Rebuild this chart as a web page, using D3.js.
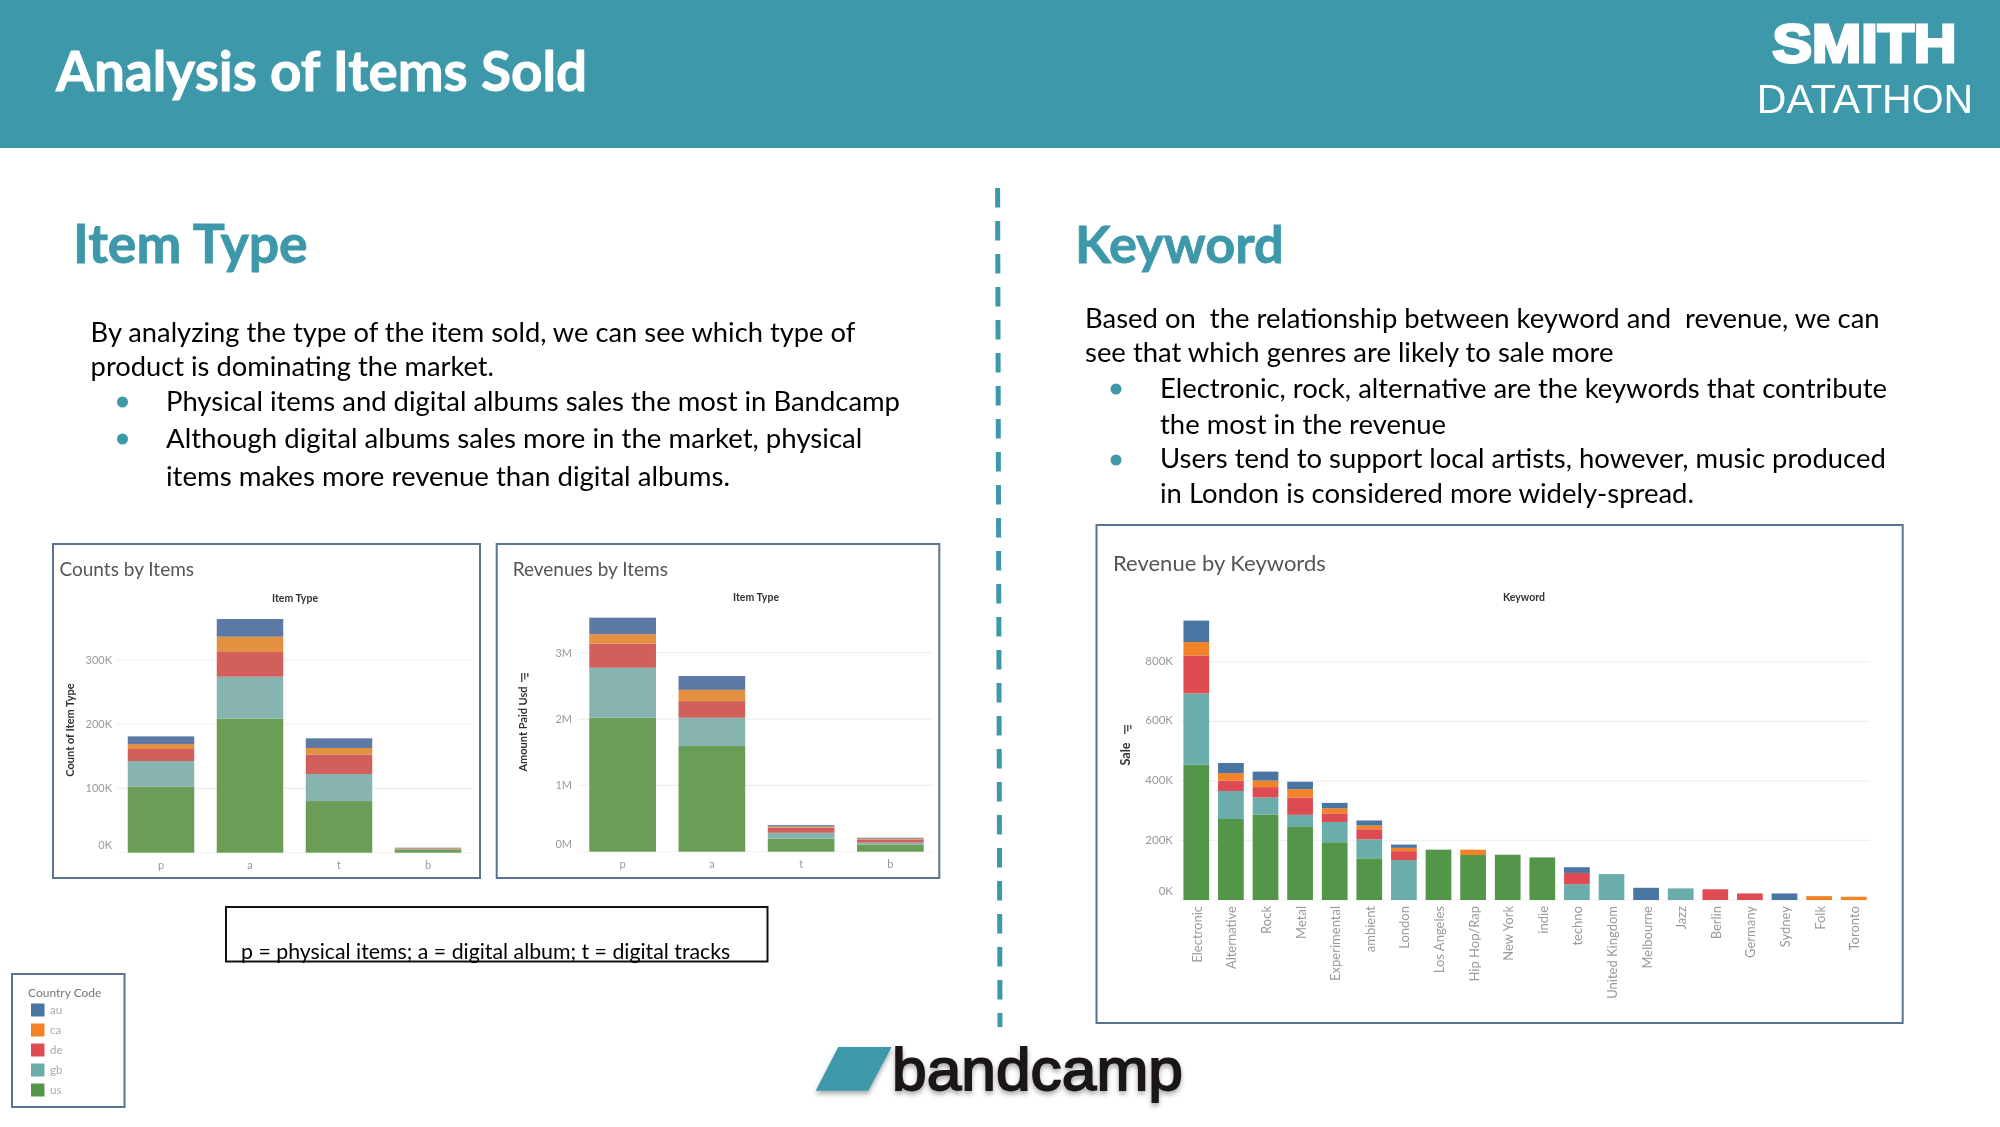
<!DOCTYPE html>
<html><head><meta charset="utf-8">
<script src="https://cdn.jsdelivr.net/npm/d3@7"></script>
<style>
html,body{margin:0;padding:0;background:#fff}
svg{display:block;filter:blur(0.35px)}
text{font-family:Lato,"Open Sans",sans-serif}
.tick line{stroke:none}
.domain{stroke:none}
</style></head><body>
<svg id="c" width="2000" height="1127"></svg>
<script>
// ---------- data ----------
const countries = ["us","gb","de","ca","au"];
const legendOrder = ["au","ca","de","gb","us"];
const itemTypes = ["p","a","t","b"];
const countUs = [102700,209000,80400,5200];
const countGb = [40000,65000,42100,800];
const countDe = [18700,38400,30500,1000];
const countCa = [7800,23900,10000,400];
const countAu = [11900,27500,15000,400];
const countTicks = [0,100000,200000,300000];

const revenueUs = [2020000,1593000,196000,110000];
const revenueGb = [754000,427000,90000,26000];
const revenueDe = [362000,250000,76000,44000];
const revenueCa = [144000,170000,18000,16000];
const revenueAu = [248000,208000,20000,14000];
const revenueTicks = [0,1000000,2000000,3000000];

const keywords = ["Electronic","Alternative","Rock","Metal","Experimental","ambient","London","Los Angeles","Hip Hop/Rap","New York","indie","techno","United Kingdom","Melbourne","Jazz","Berlin","Germany","Sydney","Folk","Toronto"];
const keywordUs = [453800,272000,286000,245000,194000,140000,0,169000,151000,152000,143000,0,0,0,0,0,0,0,0,0];
const keywordGb = [239700,94000,58000,41000,68000,64000,134000,0,0,0,0,53000,87000,0,39000,0,0,0,0,0];
const keywordDe = [127500,35000,35000,58000,29000,33500,30000,0,0,0,0,38000,0,0,0,36000,22000,0,0,0];
const keywordCa = [45000,25000,22000,28000,17000,12500,11000,0,18000,0,0,0,0,0,0,0,0,0,13000,11000];
const keywordAu = [72000,34000,30000,25000,18000,17000,11000,0,0,0,0,19000,0,41000,0,0,0,22000,0,0];
const keywordTicks = [0,200000,400000,600000,800000];

const headerTitle = "Analysis of Items Sold";
const leftBody = ["By analyzing the type of the item sold, we can see which type of","product is dominating the market."];
const leftBullets = [["Physical items and digital albums sales the most in Bandcamp"],["Although digital albums sales more in the market, physical","items makes more revenue than digital albums."]];
const rightBody = ["Based on  the relationship between keyword and  revenue, we can","see that which genres are likely to sale more"];
const rightBullets = [["Electronic, rock, alternative are the keywords that contribute","the most in the revenue"],["Users tend to support local artists, however, music produced","in London is considered more widely-spread."]];
const noteText = "p = physical items; a = digital album; t = digital tracks";

// ---------- styles ----------
const teal = "#3d98aa";
const frameColor = "#5a7394";
const mutedColors = {au:"#5b78a4",ca:"#e39140",de:"#d15e5c",gb:"#88b4b0",us:"#6a9e57"};
const brightColors = {au:"#4a74a3",ca:"#f28325",de:"#df4c52",gb:"#6badaa",us:"#52964a"};

const svg = d3.select("#c");
svg.append("style").text("text{white-space:pre}");
const defs = svg.append("defs");
defs.append("filter").attr("id","soft").append("feGaussianBlur").attr("stdDeviation",0.35);
const sh = defs.append("filter").attr("id","shadow").attr("x","-5%").attr("y","-10%").attr("width","110%").attr("height","130%");
sh.append("feDropShadow").attr("dx",0).attr("dy",3).attr("stdDeviation",2.5).attr("flood-color","#000").attr("flood-opacity",0.35);

// header
svg.append("rect").attr("x",0).attr("y",0).attr("width",2000).attr("height",148).attr("fill",teal);
svg.append("text").attr("x",56).attr("y",91).attr("font-size",54.8).attr("font-weight",700).attr("fill","#fff")
  .attr("stroke","#fff").attr("stroke-width",0.9).text(headerTitle);
svg.append("text").attr("x",1772.5).attr("y",61.5).attr("font-size",54).attr("font-weight",700)
  .attr("textLength",184).attr("lengthAdjust","spacingAndGlyphs")
  .attr("fill","#fff").attr("stroke","#fff").attr("stroke-width",3).style("font-family","'Liberation Sans'").text("SMITH");
svg.append("text").attr("x",1865).attr("y",113).attr("text-anchor","middle").attr("font-size",41)
  .attr("fill","#fff").style("font-family","'Liberation Sans'").text("DATATHON");

// divider
svg.append("line").attr("x1",997.6).attr("y1",188).attr("x2",1000).attr("y2",1027)
  .attr("stroke",teal).attr("stroke-width",5).attr("stroke-dasharray","19.5 13.5");

// section headings
svg.append("text").attr("x",73).attr("y",262.5).attr("font-size",53.6).attr("font-weight",700).attr("fill",teal)
  .attr("stroke",teal).attr("stroke-width",0.8).text("Item Type");
svg.append("text").attr("x",1075).attr("y",262.5).attr("font-size",52.3).attr("font-weight",700).attr("fill",teal)
  .attr("stroke",teal).attr("stroke-width",0.8).text("Keyword");

// body text
const bodyLeftX=90.6, bulletLeftX=122.5, bulletTextLeftX=166;
const bodyRightX=1085, bulletRightX=1116, bulletTextRightX=1160;
function body(lines,x,ys,size){lines.forEach((t,i)=>svg.append("text").attr("x",x).attr("y",ys[i]).attr("font-size",size).attr("fill","#000").text(t));}
function bullet(x,y){svg.append("circle").attr("cx",x).attr("cy",y).attr("r",5.5).attr("fill",teal);}
body(leftBody,bodyLeftX,[342,376],27.3);
body(leftBullets[0],bulletTextLeftX,[411],27.45);
body(leftBullets[1],bulletTextLeftX,[448,486],27.6);
bullet(bulletLeftX,402);bullet(bulletLeftX,439);
body(rightBody,bodyRightX,[328,362],27.45);
body(rightBullets[0],bulletTextRightX,[398,434],27.45);
body(rightBullets[1],bulletTextRightX,[468,503],27.45);
bullet(bulletRightX,389);bullet(bulletRightX,460);

// chart helper
function stacked(o){
  const g = svg.append("g");
  g.append("rect").attr("x",o.frame[0]).attr("y",o.frame[1]).attr("width",o.frame[2]-o.frame[0]).attr("height",o.frame[3]-o.frame[1])
    .attr("fill","#fff").attr("stroke",frameColor).attr("stroke-width",2);
  const inner = g.append("g").attr("filter","url(#soft)");
  inner.append("text").attr("x",o.titleX).attr("y",o.titleY).attr("font-size",o.titleSize).attr("fill","#555").text(o.title);
  inner.append("text").attr("x",o.headX).attr("y",o.headY).attr("text-anchor","middle").attr("font-size",10.5).attr("font-weight",700).attr("fill","#333").text(o.head);
  const x = d3.scaleBand().domain(o.cats).range(o.xr).paddingInner(o.pad).paddingOuter(o.pad/2);
  const y = d3.scaleLinear().domain(o.yd).range(o.yr);
  // grid
  inner.append("g").selectAll("line").data(o.ticks.slice(1)).join("line")
    .attr("x1",o.gridX[0]).attr("x2",o.gridX[1]).attr("y1",d=>y(d)).attr("y2",d=>y(d)).attr("stroke","#efefef").attr("stroke-width",1.2);
  inner.append("line").attr("x1",o.gridX[0]).attr("x2",o.gridX[1]).attr("y1",y(0)).attr("y2",y(0)).attr("stroke","#f2f2f2");
  // stack
  const rows = o.cats.map((c,i)=>{const r={cat:c};countries.forEach(k=>r[k]=o.series[k][i]);return r;});
  const layers = d3.stack().keys(countries)(rows);
  inner.append("g").selectAll("g").data(layers).join("g").attr("fill",d=>o.colors[d.key])
    .selectAll("rect").data(d=>d.filter(s=>s[1]>s[0])).join("rect")
    .attr("x",d=>x(d.data.cat)).attr("width",x.bandwidth())
    .attr("y",d=>y(d[1])).attr("height",d=>y(d[0])-y(d[1]));
  // y axis
  const ya = inner.append("g").attr("transform",`translate(${o.axisX},${o.tickShift||0})`)
    .call(d3.axisLeft(y).tickValues(o.ticks).tickSize(0).tickPadding(0).tickFormat(o.fmt));
  ya.selectAll("text").attr("font-size",o.tickSize).attr("fill","#999").style("font-family","Lato");
  ya.selectAll(".tick").filter(d=>d===0).select("text").attr("dy",-8+3.5);
  // x axis
  const xa = inner.append("g").attr("transform",`translate(${o.xShift||0},${y(0)+o.xOff})`)
    .call(d3.axisBottom(x).tickSize(0).tickPadding(0));
  xa.selectAll("text").attr("font-size",o.xSize||o.tickSize).attr("fill","#999").style("font-family","Lato");
  if(o.rotate){
    xa.selectAll("text").attr("transform","rotate(-90)").attr("text-anchor","end").attr("x",-4).attr("y",0).attr("dy","0.35em");
  }
  // y title
  inner.append("text").attr("transform",`translate(${o.yTitle[0]},${o.yTitle[1]}) rotate(-90)`).attr("text-anchor","middle")
    .attr("font-size",o.yTitleSize||11).attr("font-weight",700).attr("fill","#333").text(o.yLabel);
  if(o.sortIcon){
    const [sx,sy]=o.sortIcon;
    [9,6.5,4].forEach((w,i)=>inner.append("rect").attr("x",sx-6+i*3).attr("y",sy).attr("width",1.5).attr("height",w).attr("fill","#555"));
  }
}
const fmtK = d=>d3.format("d")(d/1000)+"K";
const fmtM = d=>d3.format("d")(d/1000000)+"M";

stacked({frame:[53,544,480,878],title:"Counts by Items",titleX:59.5,titleY:575.5,titleSize:19,head:"Item Type",headX:295,headY:602,
  cats:itemTypes,xr:[116.5,472.5],pad:0.253,yd:[0,300000],yr:[852.7,660],ticks:countTicks,fmt:fmtK,axisX:112,tickSize:11,
  gridX:[116.7,472],xOff:8,yLabel:"Count of Item Type",yTitle:[74,730],
  series:{us:countUs,gb:countGb,de:countDe,ca:countCa,au:countAu},colors:mutedColors});
stacked({frame:[496.7,544,939.3,878],title:"Revenues by Items",titleX:512.7,titleY:575.5,titleSize:19,head:"Item Type",headX:756,headY:601,
  cats:itemTypes,xr:[578,935],pad:0.253,yd:[0,3000000],yr:[851.7,652.7],ticks:revenueTicks,fmt:fmtM,axisX:572,tickSize:11,
  gridX:[578,933],xOff:8,yLabel:"Amount Paid Usd",yTitle:[527,729],sortIcon:[527,673],
  series:{us:revenueUs,gb:revenueGb,de:revenueDe,ca:revenueCa,au:revenueAu},colors:mutedColors});
stacked({frame:[1096.5,525,1902.7,1023],title:"Revenue by Keywords",titleX:1113,titleY:571,titleSize:22,head:"Keyword",headX:1524,headY:601,
  cats:keywords,xr:[1179,1871],pad:0.257,yd:[0,800000],yr:[900,661.7],ticks:keywordTicks,fmt:fmtK,axisX:1173,tickSize:11.5,tickShift:-1,
  gridX:[1180,1870],xOff:2,xShift:1,xSize:13,rotate:true,yLabel:"Sale",yTitle:[1130,754],yTitleSize:12.5,sortIcon:[1130,725],
  series:{us:keywordUs,gb:keywordGb,de:keywordDe,ca:keywordCa,au:keywordAu},colors:brightColors});

// note box
svg.append("rect").attr("x",226).attr("y",907).attr("width",541.5).attr("height",54.5).attr("fill","none").attr("stroke","#111").attr("stroke-width",2);
svg.append("text").attr("x",241).attr("y",959).attr("font-size",21.3).attr("fill","#000").text(noteText);

// legend
const lg = svg.append("g");
lg.append("rect").attr("x",12).attr("y",974).attr("width",112.5).attr("height",133).attr("fill","#fff").attr("stroke",frameColor).attr("stroke-width",2);
const lgi = lg.append("g").attr("filter","url(#soft)");
lgi.append("text").attr("x",28).attr("y",997).attr("font-size",12).attr("fill","#777").text("Country Code");
const ly = d3.scalePoint().domain(legendOrder).range([1010,1090]);
lgi.selectAll("rect").data(legendOrder).join("rect").attr("x",31).attr("width",13.5).attr("y",d=>ly(d)-6.5).attr("height",13).attr("fill",d=>brightColors[d]);
lgi.selectAll("text.l").data(legendOrder).join("text").attr("class","l").attr("x",50).attr("y",d=>ly(d)+4).attr("font-size",11.5).attr("fill","#aaa").text(d=>d);

// logo
const logo = svg.append("g").attr("filter","url(#shadow)");
logo.append("polygon").attr("points","838.3,1047 891.7,1047 868.3,1090.7 815.7,1090.7").attr("fill",teal);
logo.append("text").attr("x",892).attr("y",1090).attr("font-size",60).attr("textLength",291).attr("lengthAdjust","spacingAndGlyphs")
  .attr("fill","#1a1615").attr("stroke","#1a1615").attr("stroke-width",1.8)
  .style("font-family","'Liberation Sans'").text("bandcamp");
</script>
</body></html>
